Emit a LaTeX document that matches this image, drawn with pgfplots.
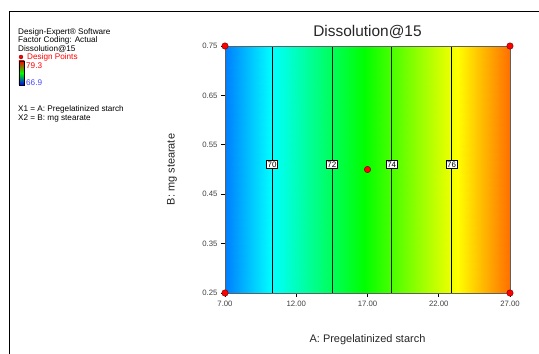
\documentclass[border=0pt]{standalone}
\usepackage{pgfplots}
\pgfplotsset{compat=1.18}
\usepackage{fontspec}
\setmainfont{Liberation Sans}
\definecolor{axgray}{RGB}{96,96,96}
\definecolor{lblue}{RGB}{70,70,255}
\begin{document}
\begin{tikzpicture}
\path[use as bounding box] (-225bp,-61bp) rectangle (314bp,293bp);
\draw[black, line width=1bp] (-215.5bp,-62bp) -- (-215.5bp,281.5bp) -- (315bp,281.5bp);
\begin{axis}[
  at={(0,0)}, anchor=south west,
  scale only axis, width=285bp, height=247bp,
  xmin=7, xmax=27, ymin=0.25, ymax=0.75,
  axis line style={axgray, line width=0.9bp},
  tick style={black, line width=0.6bp},
  tick align=outside, major tick length=4bp,
  xtick={7,12,17,22,27},
  xticklabels={7.00,12.00,17.00,22.00,27.00},
  ytick={0.25,0.35,0.45,0.55,0.65,0.75},
  yticklabels={0.25,0.35,0.45,0.55,0.65,0.75},
  ticklabel style={font=\fontsize{7.8}{9}\selectfont, text=black!75},
  xticklabel style={yshift=-1bp},
  xtick pos=bottom, ytick pos=left,
  xlabel={A: Pregelatinized starch},
  ylabel={B: mg stearate},
  label style={font=\fontsize{11}{12}\selectfont, text=black!85},
  xlabel style={at={(axis description cs:0.5,0)}, anchor=center, yshift=-47bp},
  ylabel style={at={(axis description cs:0,0.5)}, anchor=center, yshift=53bp},
  title={Dissolution@15},
  title style={font=\fontsize{15.5}{17}\selectfont, text=black!85, at={(axis description cs:0.5,1)}, anchor=base, yshift=4bp},
  colormap={de}{rgb255=(0,0,255) rgb255=(0,255,255) rgb255=(0,255,0) rgb255=(255,255,0) rgb255=(255,0,0)},
  point meta min=66.9, point meta max=79.3,
  clip=false,
  axis on top,
]
\addplot[surf, shader=interp, mesh/rows=2, point meta=explicit] table[meta=z] {
x y z
7 0.25 68.43
9 0.25 69.38
11 0.25 70.33
13 0.25 71.29
15 0.25 72.24
17 0.25 73.19
19 0.25 74.14
21 0.25 75.09
23 0.25 76.05
25 0.25 77.00
27 0.25 77.95
7 0.75 68.43
9 0.75 69.38
11 0.75 70.33
13 0.75 71.29
15 0.75 72.24
17 0.75 73.19
19 0.75 74.14
21 0.75 75.09
23 0.75 76.05
25 0.75 77.00
27 0.75 77.95
};
\addplot[black, line width=0.7bp] coordinates {(10.3,0.25) (10.3,0.75)};
\addplot[black!70!green!40!black, line width=0.7bp] coordinates {(14.5,0.25) (14.5,0.75)};
\addplot[black!70!green!40!black, line width=0.7bp] coordinates {(18.7,0.25) (18.7,0.75)};
\addplot[black, line width=0.7bp] coordinates {(22.9,0.25) (22.9,0.75)};
\addplot[only marks, mark=none, nodes near coords, point meta=explicit symbolic,
  every node near coord/.style={anchor=center, fill=white, draw=black, line width=0.6bp, inner sep=1.2bp, font=\fontsize{8}{9}\selectfont}]
  table[meta=l] {
x y l
10.3 0.51 70
14.5 0.51 72
18.7 0.51 74
22.9 0.51 76
};
\addplot[only marks, mark=*, mark size=3.2bp, mark options={fill=red, draw=red!50!black, line width=0.5bp}] coordinates {
(7,0.25) (7,0.75) (27,0.25) (27,0.75) (17,0.50)};
\end{axis}
\begin{scope}[font=\fontsize{8.2}{9}\selectfont]
\node[anchor=base west, inner sep=0] at (-207bp,258.5bp) {Design-Expert\textregistered\ Software};
\node[anchor=base west, inner sep=0] at (-207bp,250bp) {Factor Coding: Actual};
\node[anchor=base west, inner sep=0] at (-207bp,241.5bp) {Dissolution@15};
\fill[red, draw=red!40!black, line width=0.3bp] (-204bp,236bp) circle (2bp);
\node[anchor=base west, inner sep=0, text=red] at (-198bp,233bp) {Design Points};
\shade[top color=red, bottom color=blue, middle color=green] (-206bp,208bp) rectangle (-200.5bp,232bp);
\draw[black, line width=0.6bp] (-206bp,208bp) rectangle (-200.5bp,232bp);
\node[anchor=base west, inner sep=0, text=red] at (-199bp,224.5bp) {79.3};
\node[anchor=base west, inner sep=0, text=lblue] at (-199bp,207bp) {66.9};
\node[anchor=base west, inner sep=0] at (-207bp,181.5bp) {X1 = A: Pregelatinized starch};
\node[anchor=base west, inner sep=0] at (-207bp,172.5bp) {X2 = B: mg stearate};
\end{scope}
\end{tikzpicture}
\end{document}
